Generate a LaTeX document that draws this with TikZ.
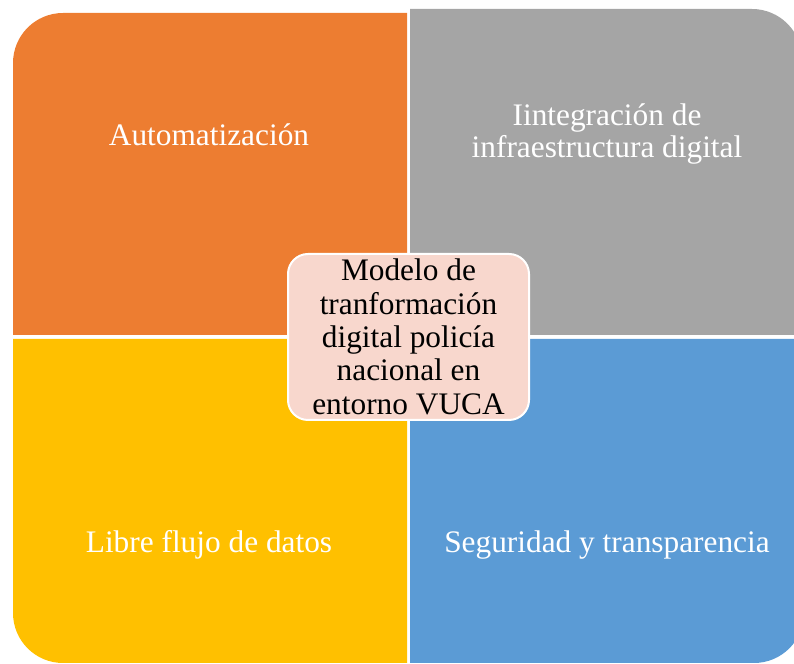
\documentclass[tikz,border=0pt]{standalone}
\usepackage{fontspec}
\setmainfont{Liberation Serif}
\usetikzlibrary{positioning}
\definecolor{naranja}{HTML}{ED7D31}
\definecolor{gris}{HTML}{A5A5A5}
\definecolor{amarillo}{HTML}{FFC000}
\definecolor{azul}{HTML}{5B9BD5}
\definecolor{rosa}{HTML}{F8D7CD}

\begin{document}
\begin{tikzpicture}[x=.75pt,y=.75pt,
    etiqueta/.style={text=white, font=\fontsize{23.5}{24.4}\selectfont, align=center},
    centro/.style={draw=white, line width=1.5pt, fill=rosa, rounded corners=15pt, minimum width=180.75pt,
        minimum height=124.5pt, inner sep=0pt, align=center, font=\fontsize{23.5}{25}\selectfont}]
            \useasboundingbox (0,0) rectangle (794,664);
            \fill[naranja] (13,329) -- (13,601) arc[start angle=180, end angle=90, radius=37.5pt] -- (407,651) -- (407,329) -- cycle;
            \fill[gris] (410,329) -- (410,655) -- (752,655) arc[start angle=90, end angle=0, radius=37.5pt] -- (802,329) -- cycle;
            \fill[amarillo] (407,325) -- (13,325) -- (13,51) arc[start angle=180, end angle=270, radius=37.5pt] -- (407,1) -- cycle;
            \fill[azul] (410,325) -- (804,325) -- (804,51) arc[start angle=0, end angle=-90, radius=37.5pt] -- (410,1) -- cycle;
            \node[etiqueta, anchor=base] (auto) at (209,518) {Automatización};
            \node[etiqueta] (infra) at (607,530) {Iintegración de\\infraestructura digital};
            \node[etiqueta, anchor=base] (datos) at (209,111) {Libre flujo de datos};
            \node[etiqueta, anchor=base] (seg) at (607,111) {Seguridad y transparencia};
            \node[centro] (modelo) at (408.5,327) {Modelo de\\tranformación\\digital policía\\nacional en\\entorno VUCA};
        \end{tikzpicture}
\end{document}
